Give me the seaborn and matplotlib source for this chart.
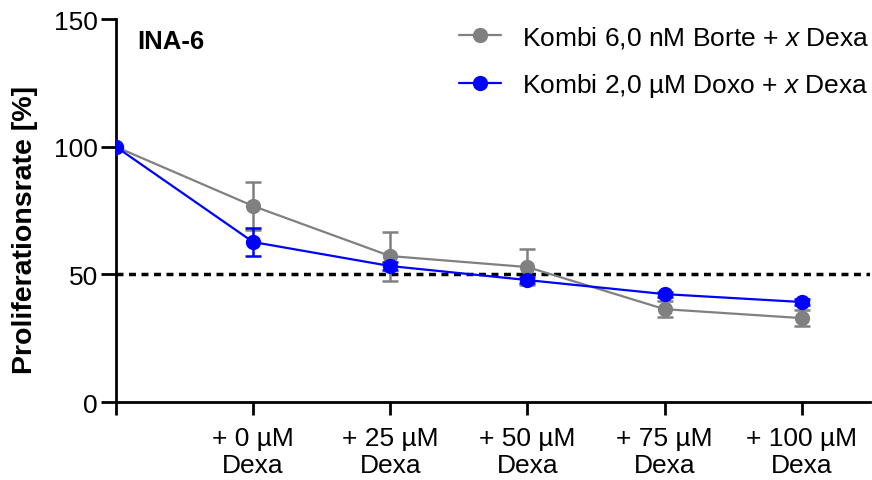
import numpy as np
import pandas as pd
import matplotlib
matplotlib.use("Agg")
import matplotlib.pyplot as plt
import seaborn as sns

# --- data ---
positions = [0, 1, 2, 3, 4, 5]
tick_labels = ["", "+ 0 µM\nDexa", "+ 25 µM\nDexa", "+ 50 µM\nDexa",
               "+ 75 µM\nDexa", "+ 100 µM\nDexa"]
borte_mean = [100, 76.8, 57.2, 52.9, 36.4, 32.9]
borte_sd = [0, 9.4, 9.6, 7.2, 3.1, 3.1]
doxo_mean = [100, 62.7, 53.3, 47.8, 42.3, 39.2]
doxo_sd = [0, 5.6, 1.5, 1.2, 1.0, 1.2]
series_names = ["Kombi 6,0 nM Borte + $\\mathit{x}$ Dexa",
                "Kombi 2,0 µM Doxo + $\\mathit{x}$ Dexa"]
colors = ["#808080", "#0000ff"]

# --- style ---
sns.set_style("ticks")
plt.rcParams["font.family"] = ["Liberation Sans", "DejaVu Sans"]
plt.rcParams["mathtext.fontset"] = "custom"
plt.rcParams["mathtext.it"] = "Liberation Sans:italic"
plt.rcParams["mathtext.rm"] = "Liberation Sans"
for k in ["text.color", "axes.labelcolor", "xtick.color", "ytick.color", "axes.edgecolor"]:
    plt.rcParams[k] = "black"

df = pd.DataFrame({
    "pos": positions * 2,
    "value": borte_mean + doxo_mean,
    "series": [series_names[0]] * 6 + [series_names[1]] * 6,
})

fig = plt.figure(figsize=(8.72, 4.81), dpi=100)
ax = fig.add_axes([0.133, 0.162, 0.865, 0.796])

# reference line at 50 %
ax.axhline(50, color="black", lw=2.5, ls=(0, (2, 1.6)), zorder=1)

# error bars (skip the 100 % start point)
for mean, sd, c in zip([borte_mean, doxo_mean], [borte_sd, doxo_sd], colors):
    ax.errorbar(positions[1:], mean[1:], yerr=sd[1:], fmt="none", ecolor=c,
                elinewidth=1.8, capsize=6, capthick=1.8, zorder=2)

sns.lineplot(data=df, x="pos", y="value", hue="series", palette=colors,
             marker="o", markersize=11, markeredgewidth=0, linewidth=1.6,
             ax=ax, zorder=3)

ax.set_xlim(0, 5.5)
ax.set_ylim(0, 150)
ax.set_xticks(positions)
ax.set_xticklabels(tick_labels, fontsize=19, linespacing=1.2)
ax.set_yticks([0, 50, 100, 150])
ax.tick_params(axis="y", labelsize=19, length=11, width=2, pad=2)
ax.tick_params(axis="x", length=9, width=2, pad=8)
ax.set_xlabel("")
ax.set_ylabel("Proliferationsrate [%]", fontsize=20.5, fontweight="bold")
ax.yaxis.set_label_coords(-0.104, 0.452)

sns.despine(ax=ax)
for s in ["left", "bottom"]:
    ax.spines[s].set_linewidth(2)

ax.text(0.028, 0.975, "INA-6", transform=ax.transAxes, fontsize=18.5,
        fontweight="bold", va="top", ha="left")

leg = ax.legend(loc="upper right", frameon=False, fontsize=19,
                bbox_to_anchor=(1.03, 1.05), handlelength=1.6,
                labelspacing=0.8, handletextpad=0.8)

fig.savefig("out.png", dpi=100)
